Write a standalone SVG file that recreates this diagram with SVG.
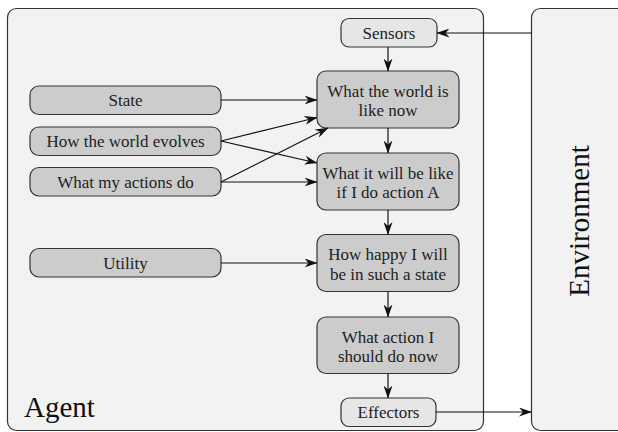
<svg xmlns="http://www.w3.org/2000/svg" width="618" height="432" viewBox="0 0 618 432">
  <style>
    .frame { fill: #f2f2f2; stroke: #333333; stroke-width: 1.2; }
    .box { fill: #cccccc; stroke: #333333; stroke-width: 1.2; }
    .io { fill: #e6e6e6; stroke: #333333; stroke-width: 1.2; }
    .lbl { font-family: "Liberation Serif", "DejaVu Serif", serif; font-size: 17px; fill: #222222; text-anchor: middle; }
    .big { font-family: "Liberation Serif", "DejaVu Serif", serif; font-size: 29px; fill: #111111; }
    .edge { fill: none; stroke: #111111; stroke-width: 1.2; marker-end: url(#arrow); }
  </style>
  <defs>
    <marker id="arrow" viewBox="0 0 13 9" refX="12.5" refY="4.5" markerWidth="13" markerHeight="9" markerUnits="userSpaceOnUse" orient="auto">
      <path d="M0,0 L13,4.5 L0,9 L4,4.5 Z" fill="#111111"/>
    </marker>
  </defs>

  <rect width="618" height="432" fill="#ffffff"/>

  <g id="agent">
    <rect class="frame" x="7.5" y="8.5" width="476" height="422" rx="9"/>
    <text class="big" x="24" y="417">Agent</text>
  </g>

  <g id="environment">
    <rect class="frame" x="531.5" y="8.5" width="100" height="422" rx="9"/>
    <text class="big" x="0" y="0" text-anchor="middle" font-size="30" transform="translate(589,221) rotate(-90)">Environment</text>
  </g>

  <g id="sensors">
    <rect class="io" x="341" y="18.5" width="96" height="28.5" rx="8"/>
    <text class="lbl" x="389" y="38.5">Sensors</text>
  </g>

  <g id="world-now">
    <rect class="box" x="317" y="71" width="142" height="57" rx="9"/>
    <text class="lbl" x="388" y="96.5">What the world is</text>
    <text class="lbl" x="388" y="116">like now</text>
  </g>

  <g id="world-next">
    <rect class="box" x="317" y="153" width="142" height="57" rx="9"/>
    <text class="lbl" x="388" y="178.5">What it will be like</text>
    <text class="lbl" x="388" y="198">if I do action A</text>
  </g>

  <g id="happiness">
    <rect class="box" x="317" y="234.5" width="142" height="57" rx="9"/>
    <text class="lbl" x="388" y="260">How happy I will</text>
    <text class="lbl" x="388" y="279.5">be in such a state</text>
  </g>

  <g id="action">
    <rect class="box" x="317" y="317" width="142" height="56.5" rx="9"/>
    <text class="lbl" x="388" y="342.5">What action I</text>
    <text class="lbl" x="388" y="362">should do now</text>
  </g>

  <g id="effectors">
    <rect class="io" x="341" y="398" width="95" height="28.5" rx="8"/>
    <text class="lbl" x="388.5" y="418">Effectors</text>
  </g>

  <g id="state">
    <rect class="box" x="30" y="86" width="191" height="28.5" rx="9"/>
    <text class="lbl" x="125.5" y="106">State</text>
  </g>

  <g id="evolves">
    <rect class="box" x="30" y="127" width="191" height="28.5" rx="9"/>
    <text class="lbl" x="125.5" y="147">How the world evolves</text>
  </g>

  <g id="my-actions">
    <rect class="box" x="30" y="167.5" width="191" height="28.5" rx="9"/>
    <text class="lbl" x="125.5" y="187.5">What my actions do</text>
  </g>

  <g id="utility">
    <rect class="box" x="30" y="248.5" width="191" height="28.5" rx="9"/>
    <text class="lbl" x="125.5" y="268.5">Utility</text>
  </g>

  <g id="connectors">
    <line class="edge" x1="531.5" y1="33" x2="437" y2="33"/>
    <line class="edge" x1="388" y1="47" x2="388" y2="71"/>
    <line class="edge" x1="388" y1="128" x2="388" y2="153"/>
    <line class="edge" x1="388" y1="210" x2="388" y2="234.5"/>
    <line class="edge" x1="388" y1="291.5" x2="388" y2="317"/>
    <line class="edge" x1="388" y1="373.5" x2="388" y2="398"/>
    <line class="edge" x1="436" y1="412" x2="531.5" y2="412"/>
    <line class="edge" x1="221" y1="100" x2="317" y2="100"/>
    <line class="edge" x1="221" y1="141" x2="317" y2="117.5"/>
    <line class="edge" x1="221" y1="141" x2="317" y2="163"/>
    <line class="edge" x1="221" y1="182" x2="317" y2="182"/>
    <line class="edge" x1="221" y1="182" x2="328" y2="128"/>
    <line class="edge" x1="221" y1="263" x2="317" y2="263"/>
  </g>
</svg>
